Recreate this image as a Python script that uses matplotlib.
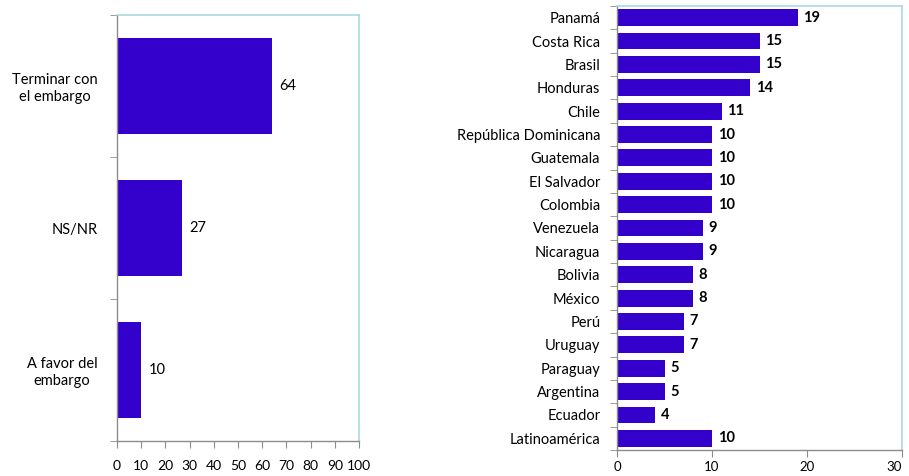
import matplotlib
matplotlib.use("Agg")
import matplotlib.pyplot as plt
import numpy as np

# Left chart data
left_labels = ["Terminar con\nel embargo", "NS/NR", "A favor del\nembargo"]
left_values = [64, 27, 10]
left_ticks = [0, 10, 20, 30, 40, 50, 60, 70, 80, 90, 100]

# Right chart data
right_labels = ["Panamá", "Costa Rica", "Brasil", "Honduras", "Chile",
                "República Dominicana", "Guatemala", "El Salvador", "Colombia",
                "Venezuela", "Nicaragua", "Bolivia", "México", "Perú", "Uruguay",
                "Paraguay", "Argentina", "Ecuador", "Latinoamérica"]
right_values = [19, 15, 15, 14, 11, 10, 10, 10, 10, 9, 9, 8, 8, 7, 7, 5, 5, 4, 10]
right_ticks = [0, 10, 20, 30]

BAR = "#3300CC"
GRAY = "#8C8C8C"
LBLUE = "#A9D9E0"
FONT = ["Lato", "DejaVu Sans"]
plt.rcParams['font.family'] = FONT

fig = plt.figure(figsize=(9.09, 4.76), dpi=100)


def style(ax):
    for s in ["left", "bottom"]:
        ax.spines[s].set_color(GRAY)
        ax.spines[s].set_linewidth(1.0)
    for s in ["top", "right"]:
        ax.spines[s].set_color(LBLUE)
        ax.spines[s].set_linewidth(1.2)


# ---- Left chart ----
ax1 = fig.add_axes([117/909, 1-441/476, 242/909, 426/476])
n1 = len(left_values)
y1 = np.arange(n1)[::-1]
ax1.barh(y1, left_values, height=0.67, color=BAR)
ax1.set_xlim(0, 100)
ax1.set_ylim(-0.5, n1 - 0.5)
ax1.set_xticks(left_ticks)
ax1.set_xticklabels([str(t) for t in left_ticks], fontsize=10)
ax1.tick_params(axis="x", length=5, color=GRAY, pad=9)
ax1.set_yticks(y1)
ax1.set_yticklabels(left_labels, fontsize=10.5, ha="right", multialignment="center")
ax1.tick_params(axis="y", length=0, pad=14)
ax1.set_yticks(np.arange(-0.5, n1, 1.0), minor=True)
ax1.tick_params(axis="y", which="minor", length=5, color=GRAY)
for y, v in zip(y1, left_values):
    ax1.text(v + 3, y, str(v), va="center", ha="left", fontsize=10.5)
style(ax1)

# ---- Right chart ----
ax2 = fig.add_axes([617/909, 1-450/476, 285/909, 444/476])
n2 = len(right_values)
y2 = np.arange(n2)[::-1]
ax2.barh(y2, right_values, height=0.72, color=BAR)
ax2.set_xlim(0, 30)
ax2.set_ylim(-0.5, n2 - 0.5)
ax2.set_xticks(right_ticks)
ax2.set_xticklabels([str(t) for t in right_ticks], fontsize=9.5)
ax2.tick_params(axis="x", length=5, color=GRAY, pad=3)
ax2.set_yticks(y2)
ax2.set_yticklabels(right_labels, fontsize=10.5)
ax2.tick_params(axis="y", length=0, pad=12)
ax2.set_yticks(np.arange(-0.5, n2, 1.0), minor=True)
ax2.tick_params(axis="y", which="minor", length=5, color=GRAY)
for y, v in zip(y2, right_values):
    ax2.text(v + 0.6, y, str(v), va="center", ha="left", fontsize=10.5, fontweight="bold")
style(ax2)
# keep the last tick label inside the figure
ax2.get_xticklabels()[-1].set_horizontalalignment("right")

fig.savefig("out.png", dpi=100)
